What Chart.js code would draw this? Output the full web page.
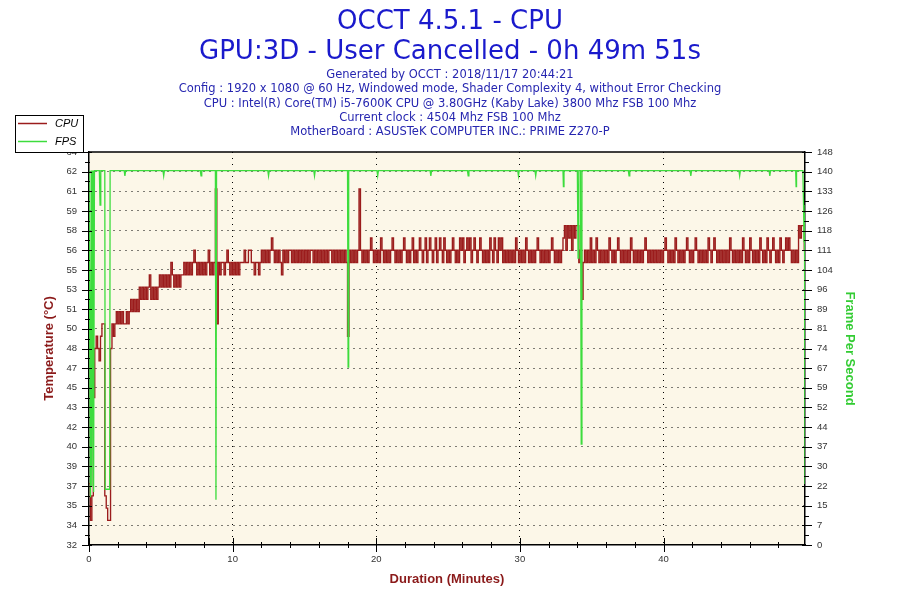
<!DOCTYPE html>
<html>
<head>
<meta charset="utf-8">
<title>OCCT 4.5.1 - CPU</title>
<script src="https://cdn.jsdelivr.net/npm/chart.js@4.4.1/dist/chart.umd.min.js"></script>
<style>
  html, body { margin: 0; padding: 0; background: #fff; }
  #wrap { width: 900px; height: 600px; }
</style>
</head>
<body>
<div id="wrap"><canvas id="occtChart" width="900" height="600"></canvas></div>
<script>
const titleLines = ['OCCT 4.5.1 - CPU', 'GPU:3D - User Cancelled - 0h 49m 51s'];
const infoLines = [
  'Generated by OCCT : 2018/11/17 20:44:21',
  'Config : 1920 x 1080 @ 60 Hz, Windowed mode, Shader Complexity 4, without Error Checking',
  'CPU : Intel(R) Core(TM) i5-7600K CPU @ 3.80GHz (Kaby Lake) 3800 Mhz FSB 100 Mhz',
  'Current clock : 4504 Mhz FSB 100 Mhz',
  'MotherBoard : ASUSTeK COMPUTER INC.: PRIME Z270-P'
];

// axis labels as printed by OCCT
const cpuTickLabels = ['32','34','35','37','39','40','42','43','45','47','48','50','51','53','55','56','58','59','61','62','64'];
const fpsTickLabels = ['0','7','15','22','30','37','44','52','59','67','74','81','89','96','104','111','118','126','133','140','148'];
const durationLabels = [0, 10, 20, 30, 40];

// CPU temperature, one sample every 0.1 minute (one row = one minute)
const cpuStep = 0.1;
const cpuTemp = [
  37,34,36,44,48,49,48,47,49,50,
  50,36,35,34,34,48,50,49,50,51,
  50,51,50,51,50,50,51,50,51,52,
  51,52,51,52,51,53,52,53,52,53,
  52,53,54,52,53,52,53,52,53,54,
  53,54,53,54,53,54,53,55,54,53,
  54,53,54,53,54,54,55,54,55,54,
  55,54,55,56,55,54,55,54,55,54,
  55,54,55,56,54,55,54,55,61,50,
  55,54,55,55,54,55,56,55,54,55,
  54,55,54,55,54,55,55,55,56,55,
  55,56,56,55,55,54,55,55,54,55,
  56,55,56,55,56,55,56,57,56,55,
  56,55,56,55,54,56,55,56,55,56,
  56,55,56,55,56,55,56,55,56,55,
  56,55,56,55,56,56,55,56,55,56,
  55,56,55,56,55,56,55,56,56,55,
  56,55,56,55,56,55,56,55,56,55,
  49,56,55,56,55,56,55,56,61,56,
  55,56,55,56,55,56,57,56,55,56,
  55,56,55,57,56,55,56,55,56,55,
  56,57,56,55,56,55,56,55,56,57,
  56,55,56,55,56,57,55,56,55,56,
  57,56,55,56,57,55,56,57,56,55,
  56,57,55,56,57,56,55,57,56,55,
  56,55,56,57,56,55,56,55,57,56,
  57,55,56,57,56,57,55,56,57,56,
  55,56,57,56,55,56,55,56,55,57,
  56,55,57,56,55,57,56,57,55,56,
  55,56,55,56,55,56,55,57,56,55,
  56,55,56,55,57,56,55,56,55,56,
  55,56,57,56,55,56,55,56,55,56,
  55,56,57,56,55,56,55,56,55,56,
  57,58,56,58,57,58,56,58,57,58,
  58,55,56,52,55,56,55,56,55,57,
  55,56,55,57,56,55,56,55,56,55,
  56,55,57,56,55,56,55,56,57,56,
  55,56,55,56,55,56,55,57,56,55,
  56,55,56,55,56,55,56,57,56,55,
  56,55,56,55,56,55,56,55,56,55,
  56,57,56,55,56,55,56,55,57,56,
  55,56,55,56,55,56,57,56,55,56,
  55,56,57,56,55,56,55,56,55,56,
  55,57,56,55,56,57,56,55,56,55,
  56,55,56,55,56,55,57,56,55,56,
  55,56,55,56,55,57,56,55,56,55,
  57,56,55,56,55,56,55,57,56,55,
  56,55,57,56,55,56,57,56,55,56,
  55,57,56,55,56,57,56,57,56,55,
  56,55,56,55,58,57,58,58,56
];

// frames per second, sampled where the line changes
const fpsMinutes = [0, 0.1, 0.15, 0.2, 0.28, 0.32, 0.38, 0.72, 0.77, 0.82, 1.1, 1.13, 1.44, 1.47,
  2.45, 2.5, 2.55, 5.15, 5.2, 5.25, 7.75, 7.8, 7.85, 8.8, 8.84, 8.88, 12.45, 12.5, 12.55,
  15.65, 15.7, 15.75, 18.0, 18.04, 18.08, 20.05, 20.1, 20.15, 23.75, 23.8, 23.85,
  26.35, 26.4, 26.45, 29.85, 29.9, 29.95, 31.05, 31.1, 31.15, 33.0, 33.03, 33.07,
  34.0, 34.05, 34.1, 34.22, 34.27, 34.32, 37.55, 37.6, 37.65, 41.85, 41.9, 41.95,
  45.25, 45.3, 45.35, 47.35, 47.4, 47.45, 49.2, 49.23, 49.26, 49.7, 49.75, 49.78, 49.8, 49.82, 49.85];
const fpsValues = [141, 18, 141, 22, 141, 20, 141, 141, 128, 141, 141, 21, 21, 141,
  141, 139, 141, 141, 139, 141, 141, 139, 141, 141, 17, 141, 141, 139, 141,
  141, 139, 141, 141, 67, 141, 141, 139, 141, 141, 139, 141,
  141, 139, 141, 141, 139, 141, 141, 139, 141, 141, 135, 141,
  141, 108, 141, 141, 38, 141, 141, 139, 141, 141, 139, 141,
  141, 139, 141, 141, 139, 141, 141, 135, 141, 141, 128, 114, 125, 110, 23];

const tickFont = { family: '"Liberation Sans", Arial, sans-serif', size: 9.5 };
const axisTitleFont = { family: '"Liberation Sans", Arial, sans-serif', size: 13, weight: 'bold' };
const clear = 'rgba(0,0,0,0)';

// cream plot area, top border, OCCT style tick marks
const plotFrame = {
  id: 'plotFrame',
  beforeDraw(chart) {
    const {ctx, chartArea: a} = chart;
    ctx.save();
    ctx.fillStyle = '#ffffff';
    ctx.fillRect(0, 0, chart.width, chart.height);
    ctx.fillStyle = '#fcf7e8';
    ctx.fillRect(a.left, a.top, a.right - a.left, a.bottom - a.top);
    ctx.restore();
  },
  afterDraw(chart) {
    const {ctx, chartArea: a, scales} = chart;
    ctx.save();
    ctx.strokeStyle = '#000';
    ctx.lineWidth = 1.5;
    ctx.beginPath();
    ctx.moveTo(a.left, a.top);
    ctx.lineTo(a.right, a.top);
    ctx.stroke();

    ctx.lineWidth = 1;
    const hLine = (x1, x2, y) => { ctx.beginPath(); ctx.moveTo(x1, y); ctx.lineTo(x2, y); ctx.stroke(); };
    const vLine = (y1, y2, x) => { ctx.beginPath(); ctx.moveTo(x, y1); ctx.lineTo(x, y2); ctx.stroke(); };

    [scales.y, scales.y2].forEach(s => {
      const edge = s.position === 'left' ? a.left : a.right;
      const dir = s.position === 'left' ? -1 : 1;
      s.ticks.forEach((t, i) => {
        const py = Math.round(s.getPixelForValue(t.value)) + 0.5;
        hLine(edge - dir * 3, edge + dir * 7, py);
        if (i < s.ticks.length - 1) {
          const mid = Math.round(s.getPixelForValue((t.value + s.ticks[i + 1].value) / 2)) + 0.5;
          hLine(edge - dir * 1, edge + dir * 4, mid);
        }
      });
    });

    const x = scales.x;
    x.ticks.forEach(t => {
      const px = Math.round(x.getPixelForValue(t.value)) + 0.5;
      if (durationLabels.includes(t.value)) vLine(a.bottom - 7, a.bottom + 7, px);
      else vLine(a.bottom - 3, a.bottom + 3, px);
    });
    ctx.restore();
  }
};

// small boxed legend in the upper left corner
const boxLegend = {
  id: 'boxLegend',
  afterDraw(chart) {
    const ctx = chart.ctx;
    ctx.save();
    ctx.fillStyle = '#fff';
    ctx.fillRect(15.5, 115.5, 68, 37);
    ctx.strokeStyle = '#000';
    ctx.lineWidth = 1;
    ctx.strokeRect(15.5, 115.5, 68, 37);
    chart.data.datasets.forEach((ds, i) => {
      const ly = 123.5 + i * 18;
      ctx.strokeStyle = ds.borderColor;
      ctx.lineWidth = 1.5;
      ctx.beginPath();
      ctx.moveTo(18, ly);
      ctx.lineTo(47, ly);
      ctx.stroke();
      ctx.fillStyle = '#000';
      ctx.font = 'italic 11px "Liberation Sans", Arial, sans-serif';
      ctx.textBaseline = 'middle';
      ctx.fillText(ds.label, 55, ly);
    });
    ctx.restore();
  }
};

const cpuPoints = cpuTemp.map((t, i) => ({ x: Math.round(i * cpuStep * 10) / 10, y: t }));
const fpsPoints = fpsMinutes.map((m, i) => ({ x: m, y: fpsValues[i] }));

new Chart(document.getElementById('occtChart'), {
  type: 'line',
  data: {
    datasets: [
      {
        label: 'CPU',
        data: cpuPoints,
        yAxisID: 'y',
        borderColor: '#9b1c1c',
        borderWidth: 1.35,
        pointRadius: 0,
        stepped: true,
        order: 2
      },
      {
        label: 'FPS',
        data: fpsPoints,
        yAxisID: 'y2',
        borderColor: '#3ddc3d',
        borderWidth: 1.3,
        pointRadius: 0,
        tension: 0,
        order: 1
      }
    ]
  },
  options: {
    responsive: false,
    animation: false,
    layout: { padding: 0 },
    plugins: {
      legend: { display: false },
      tooltip: { enabled: false },
      title: {
        display: true,
        text: titleLines,
        color: '#1a1acc',
        font: { family: '"DejaVu Sans", Verdana, sans-serif', size: 26, weight: 'normal', lineHeight: 30 / 26 },
        padding: { top: 7, bottom: 1 }
      },
      subtitle: {
        display: true,
        text: infoLines,
        color: '#2626b0',
        font: { family: '"DejaVu Sans", Verdana, sans-serif', size: 11.5, lineHeight: 14.25 / 11.5 },
        padding: { top: 0, bottom: 12.75 }
      }
    },
    scales: {
      x: {
        type: 'linear',
        min: 0,
        max: 49.85,
        ticks: {
          stepSize: 2,
          includeBounds: false,
          autoSkip: false,
          maxRotation: 0,
          padding: 9,
          color: '#333',
          font: tickFont,
          callback: v => durationLabels.includes(v) ? String(v) : ''
        },
        grid: {
          drawTicks: false,
          color: c => (c.tick && c.tick.value > 0 && durationLabels.includes(c.tick.value)) ? '#000' : clear
        },
        border: { color: '#000', width: 1.5, dash: [1, 5] },
        title: {
          display: true,
          text: 'Duration (Minutes)',
          color: '#8b1a1a',
          font: axisTitleFont,
          padding: { top: 0, bottom: 13 }
        },
        afterFit: s => { s.height = 55; }
      },
      y: {
        position: 'left',
        min: 32,
        max: 64,
        ticks: {
          stepSize: 1.6,
          autoSkip: false,
          padding: 12,
          color: '#333',
          font: tickFont,
          callback: (v, i) => cpuTickLabels[i]
        },
        grid: {
          drawTicks: false,
          color: c => (c.index > 0 && c.index < cpuTickLabels.length - 1) ? '#000' : clear
        },
        border: { color: '#000', width: 1.5, dash: [1, 5] },
        title: {
          display: true,
          text: 'Temperature (°C)',
          color: '#8b1a1a',
          font: axisTitleFont,
          padding: { top: 42, bottom: 0 }
        },
        afterFit: s => { s.width = 89; }
      },
      y2: {
        position: 'right',
        min: 0,
        max: 148,
        ticks: {
          stepSize: 7.4,
          autoSkip: false,
          padding: 12,
          color: '#333',
          font: tickFont,
          callback: (v, i) => fpsTickLabels[i]
        },
        grid: { drawOnChartArea: false, drawTicks: false },
        border: { color: '#000', width: 1.5 },
        title: {
          display: true,
          text: 'Frame Per Second',
          color: '#33cc33',
          font: axisTitleFont,
          padding: { top: 43, bottom: 0 }
        },
        afterFit: s => { s.width = 95; }
      }
    }
  },
  plugins: [plotFrame, boxLegend]
});
</script>
</body>
</html>
